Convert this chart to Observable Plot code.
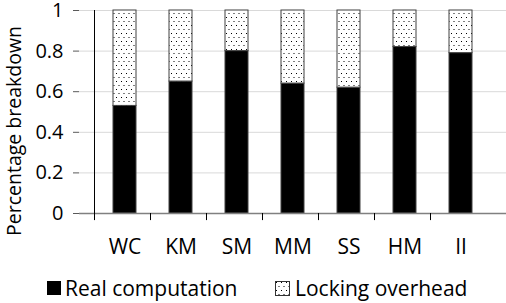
<!DOCTYPE html>
<html><head><meta charset="utf-8">
<script src="https://cdn.jsdelivr.net/npm/d3@7"></script>
<script src="https://cdn.jsdelivr.net/npm/@observablehq/plot@0.6"></script>
<style>
body{margin:0;background:#fff;font-family:"Open Sans",sans-serif;}
#chart svg{display:block;}
#legend{font-size:21px;color:#000;height:41px;position:relative;}
.item{position:absolute;top:13px;display:flex;align-items:center;line-height:26px;white-space:nowrap;}
.sw{width:14px;height:14px;margin-right:4px;box-sizing:border-box;}
</style></head>
<body><div id="chart"></div><div id="legend">
<div class="item" style="left:47px"><div class="sw" style="background:#000"></div>Real computation</div>
<div class="item" style="left:275px"><svg width="15" height="15" style="margin-right:5px"><rect x="0.5" y="0.5" width="14" height="14" fill="url(#dots)" stroke="#333"/></svg>Locking overhead</div>
</div>
<script>
const categories = ["WC","KM","SM","MM","SS","HM","II"];
const realComputation = [0.53,0.65,0.80,0.64,0.62,0.82,0.79];
const lockingOverhead = [0.47,0.35,0.20,0.36,0.38,0.18,0.21];
const yTicks = [0,0.2,0.4,0.6,0.8,1];
const yTitle = "Percentage breakdown";

const real = categories.map((c,i)=>({cat:c,y1:0,y2:realComputation[i]}));
const lock = categories.map((c,i)=>({cat:c,y1:realComputation[i],y2:realComputation[i]+lockingOverhead[i]}));
const half = -(506-79)/categories.length/2;

const chart = Plot.plot({
  width:506, height:262,
  marginLeft:79, marginRight:0, marginTop:10, marginBottom:49,
  style:{fontFamily:"Open Sans, sans-serif", fontSize:"20px", color:"#000", background:"#fff", overflow:"visible"},
  x:{domain:categories, padding:0.59, label:null},
  y:{domain:[0,1], label:null},
  marks:[
    Plot.gridY(yTicks,{stroke:"#d9d9d9", strokeOpacity:1}),
    Plot.barY(real,{x:"cat",y1:"y1",y2:"y2",fill:"#000",stroke:"#404040",strokeWidth:1}),
    Plot.barY(lock,{x:"cat",y1:"y1",y2:"y2",fill:"url(#dots)",stroke:"#404040",strokeWidth:1}),
    Plot.axisY(yTicks,{tickSize:6,tickPadding:10,tickFormat:d=>String(d),fontSize:20,stroke:"#595959"}),
    Plot.axisX({tickSize:0,tickPadding:26,fontSize:21}),
    Plot.ruleY([0],{stroke:"#808080",strokeWidth:1.5}),
    Plot.ruleX(categories.slice(0,1),{x:d=>d, dx:half, y1:-0.035, y2:1, stroke:"#000"}),
    Plot.ruleX(categories.slice(1),{x:d=>d, dx:half, y1:0, y2:-0.035, stroke:"#000"}),
    Plot.text([yTitle],{frameAnchor:"middle",dx:14-(79+(506-79)/2),dy:19,rotate:-90,fontSize:19.5})
  ]
});
d3.select(chart).insert("defs",":first-child").html(
  '<pattern id="dots" patternUnits="userSpaceOnUse" width="5" height="8">' +
  '<rect width="5" height="8" fill="#fff"/>' +
  '<rect x="1" y="1" width="1" height="1" fill="#000"/>' +
  '<rect x="3.5" y="5" width="1" height="1" fill="#000"/></pattern>');
document.getElementById("chart").appendChild(chart);
</script>
</body></html>
